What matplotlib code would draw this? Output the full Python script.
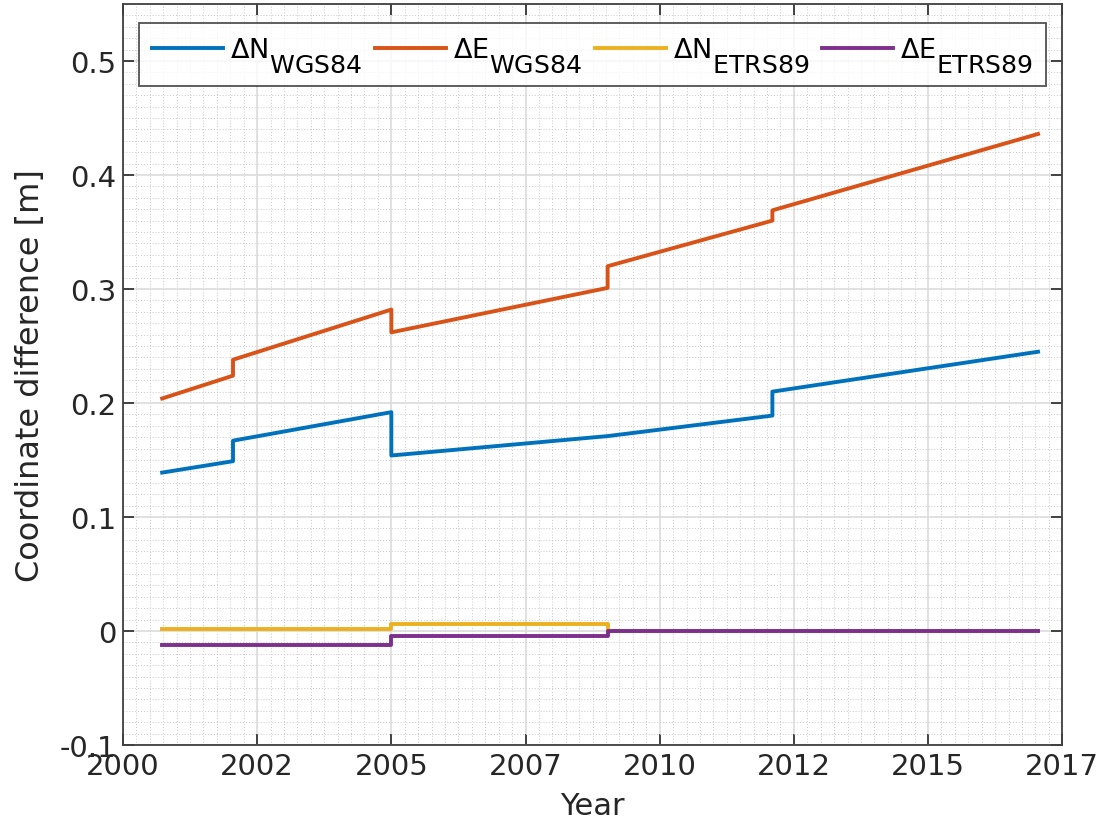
import numpy as np
import matplotlib
import matplotlib.pyplot as plt
import matplotlib._mathtext as mt
from matplotlib.ticker import MultipleLocator, FixedLocator, FixedFormatter

# subscripts in the legend are almost full size and dropped well below the baseline
mt.SHRINK_FACTOR = 0.93
for cls in (mt.FontConstantsBase, mt.DejaVuSansFontConstants):
    cls.sub1 = 1.0
    cls.subdrop = 1.0
plt.rcParams['font.family'] = ['DejaVu Sans']
plt.rcParams['mathtext.fontset'] = 'dejavusans'

# decimal years, repeated x at the jumps
x_dn_wgs = [2000.73, 2002.05, 2002.05, 2005.0, 2005.0, 2009.03, 2012.1, 2012.1, 2017.05]
y_dn_wgs = [0.139, 0.149, 0.167, 0.192, 0.154, 0.171, 0.189, 0.210, 0.245]

x_de_wgs = [2000.73, 2002.05, 2002.05, 2005.0, 2005.0, 2009.03, 2009.03, 2012.1, 2012.1, 2017.05]
y_de_wgs = [0.204, 0.224, 0.238, 0.282, 0.262, 0.301, 0.320, 0.360, 0.369, 0.436]

x_etrs = [2000.73, 2005.0, 2005.0, 2009.03, 2009.03, 2017.05]
y_dn_etrs = [0.0015, 0.0015, 0.006, 0.006, 0.0, 0.0]
y_de_etrs = [-0.012, -0.012, -0.0045, -0.0045, 0.0, 0.0]

xtick_pos = [2000, 2002.5, 2005, 2007.5, 2010, 2012.5, 2015, 2017.5]
xtick_lab = ['2000', '2002', '2005', '2007', '2010', '2012', '2015', '2017']

fig = plt.figure(figsize=(11.03, 8.29), dpi=100)
ax = fig.add_axes([0.1115, 0.1, 0.8515, 0.894])

lw = 2.8
ax.plot(x_dn_wgs, y_dn_wgs, color='#0072BD', lw=lw, label=r'$\Delta$N$_{\mathrm{WGS84}}$')
ax.plot(x_de_wgs, y_de_wgs, color='#D95319', lw=lw, label=r'$\Delta$E$_{\mathrm{WGS84}}$')
ax.plot(x_etrs, y_dn_etrs, color='#EDB120', lw=lw, label=r'$\Delta$N$_{\mathrm{ETRS89}}$')
ax.plot(x_etrs, y_de_etrs, color='#7E2F8E', lw=lw, label=r'$\Delta$E$_{\mathrm{ETRS89}}$')

ax.set_xlim(2000, 2017.5)
ax.set_ylim(-0.1, 0.55)
ax.xaxis.set_major_locator(FixedLocator(xtick_pos))
ax.xaxis.set_major_formatter(FixedFormatter(xtick_lab))
ax.xaxis.set_minor_locator(MultipleLocator(0.25))
ax.set_yticks(np.arange(-0.1, 0.51, 0.1))
ax.set_yticklabels(['-0.1', '0', '0.1', '0.2', '0.3', '0.4', '0.5'])
ax.yaxis.set_minor_locator(MultipleLocator(0.01))

ax.grid(True, which='major', color='#dcdcdc', lw=1.2)
ax.grid(True, which='minor', color='#c8c8c8', lw=0.7, ls=(0, (1, 2)))
ax.set_axisbelow(True)

ax.tick_params(which='major', direction='in', length=8, width=1.2, top=True, right=True,
               labelsize=21, colors='#262626', pad=5)
ax.tick_params(which='minor', length=0)
for s in ax.spines.values():
    s.set_color('#404040')
    s.set_linewidth(1.3)

ax.set_xlabel('Year', fontsize=22, color='#262626', labelpad=8)
ax.set_ylabel('Coordinate difference [m]', fontsize=23, color='#262626', labelpad=10)

leg = ax.legend(loc='upper center', ncol=4, fontsize=19.5, frameon=True, fancybox=False,
                edgecolor='#262626', handlelength=2.65, handletextpad=0.25, columnspacing=0.45,
                borderaxespad=0.7, borderpad=0.45, bbox_to_anchor=(0.5, 1.0))
leg.get_frame().set_linewidth(1.3)

fig.savefig('out.png', dpi=100)
